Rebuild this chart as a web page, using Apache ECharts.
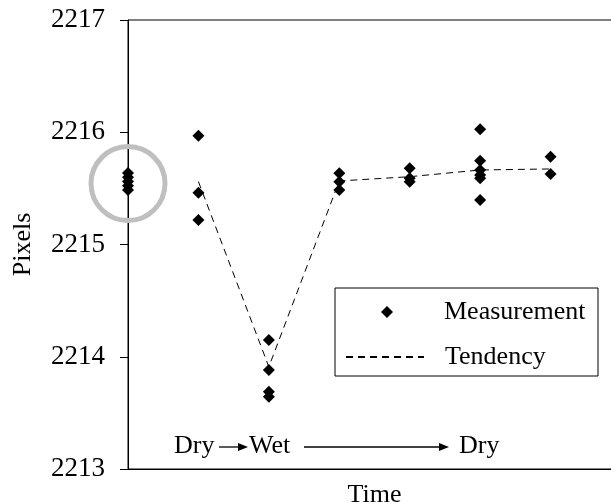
<!DOCTYPE html>
<html>
<head>
<meta charset="utf-8">
<script src="https://cdn.jsdelivr.net/npm/echarts@6/dist/echarts.min.js"></script>
<style>
  html, body { margin: 0; padding: 0; background: #fff; }
  #main { width: 611px; height: 504px; }
</style>
</head>
<body>
<div id="main"></div>
<script>
// measurements per time step (x index 0..6)
var times = [0, 1, 2, 3, 4, 5, 6];
var measurements = [
  [2215.637, 2215.599, 2215.561, 2215.523, 2215.486],
  [2215.969, 2215.461, 2215.218],
  [2214.149, 2213.882, 2213.689, 2213.644],
  [2215.634, 2215.559, 2215.486],
  [2215.679, 2215.590, 2215.559],
  [2216.026, 2215.747, 2215.664, 2215.619, 2215.590, 2215.396],
  [2215.782, 2215.628]
];
// tendency line starts at step 1
var tendencyX = [1, 2, 3, 4, 5, 6];
var tendency = [2215.56, 2213.91, 2215.566, 2215.604, 2215.664, 2215.673];
// grey ring around the first group
var highlight = [[0, 2215.543]];
var yTicks = [2213, 2214, 2215, 2216, 2217];

var serif = 'Liberation Serif, Times New Roman, DejaVu Serif, serif';

var scatterData = [];
measurements.forEach(function (vals, i) {
  vals.forEach(function (v) { scatterData.push([times[i], v]); });
});
var lineData = tendencyX.map(function (x, i) { return [x, tendency[i]]; });

var legendText = { fontFamily: serif, fontSize: 26, color: '#000' };

var myChart = echarts.init(document.getElementById('main'));
myChart.setOption({
  backgroundColor: '#fff',
  animation: false,
  grid: {
    left: 128, right: -10, top: 20, bottom: 35,
    containLabel: false, outerBoundsMode: 'none',
    show: true, borderColor: '#000', borderWidth: 1
  },
  xAxis: {
    type: 'value', min: 0, max: 7,
    name: 'Time', nameLocation: 'middle', nameGap: 13,
    nameTextStyle: { fontFamily: serif, fontSize: 26, color: '#000' },
    axisLine: { lineStyle: { color: '#000', width: 1 } },
    axisTick: { show: false },
    axisLabel: { show: false },
    splitLine: { show: false }
  },
  yAxis: {
    type: 'value', min: yTicks[0], max: yTicks[yTicks.length - 1], interval: 1,
    name: 'Pixels', nameLocation: 'middle', nameGap: 92,
    nameTextStyle: { fontFamily: serif, fontSize: 26, color: '#000' },
    axisLine: { show: true, lineStyle: { color: '#000', width: 1 } },
    axisTick: { show: true, length: 8, lineStyle: { color: '#000' } },
    axisLabel: {
      fontFamily: serif, fontSize: 27, color: '#000', margin: 23,
      padding: [0, 0, 6, 0],
      formatter: function (v) { return String(v); }
    },
    splitLine: { show: false }
  },
  legend: [
    {
      data: ['Measurement'],
      left: 381, top: 299,
      padding: 0,
      itemWidth: 12, itemHeight: 12,
      textStyle: Object.assign({ padding: [0, 0, 0, 46] }, legendText)
    },
    {
      data: ['Tendency'],
      left: 345, top: 344,
      padding: 0,
      itemWidth: 78, itemHeight: 12,
      itemStyle: { opacity: 0 },
      textStyle: Object.assign({ padding: [0, 0, 0, 16] }, legendText)
    }
  ],
  series: [
    {
      name: 'highlight',
      type: 'scatter',
      data: highlight,
      symbol: 'circle',
      symbolSize: 74,
      itemStyle: { color: 'rgba(0,0,0,0)', borderColor: '#bfbfbf', borderWidth: 5, opacity: 1 },
      z: 1,
      silent: true
    },
    {
      name: 'Tendency',
      type: 'line',
      data: lineData,
      symbol: 'none',
      lineStyle: { color: '#000', width: 1, type: [7, 5] },
      itemStyle: { color: '#000' },
      z: 2
    },
    {
      name: 'Measurement',
      type: 'scatter',
      data: scatterData,
      symbol: 'diamond',
      symbolSize: 12,
      itemStyle: { color: '#000', opacity: 1 },
      z: 3
    }
  ],
  graphic: [
    // legend frame
    { type: 'rect', shape: { x: 335, y: 288, width: 263, height: 88 }, style: { fill: 'none', stroke: '#000', lineWidth: 1 }, z: 10 },
    // Dry -> Wet -> Dry annotation
    { type: 'text', left: 174, top: 433, style: { text: 'Dry', font: '26px ' + serif, fill: '#000' } },
    { type: 'line', shape: { x1: 219, y1: 447, x2: 240, y2: 447 }, style: { stroke: '#000', lineWidth: 1.3 } },
    { type: 'polygon', shape: { points: [[238, 443], [248, 447], [238, 451]] }, style: { fill: '#000' } },
    { type: 'text', left: 249, top: 433, style: { text: 'Wet', font: '26px ' + serif, fill: '#000' } },
    { type: 'line', shape: { x1: 304, y1: 447, x2: 441, y2: 447 }, style: { stroke: '#000', lineWidth: 1.3 } },
    { type: 'polygon', shape: { points: [[439, 443], [449, 447], [439, 451]] }, style: { fill: '#000' } },
    { type: 'text', left: 459, top: 433, style: { text: 'Dry', font: '26px ' + serif, fill: '#000' } }
  ]
});
</script>
</body>
</html>
